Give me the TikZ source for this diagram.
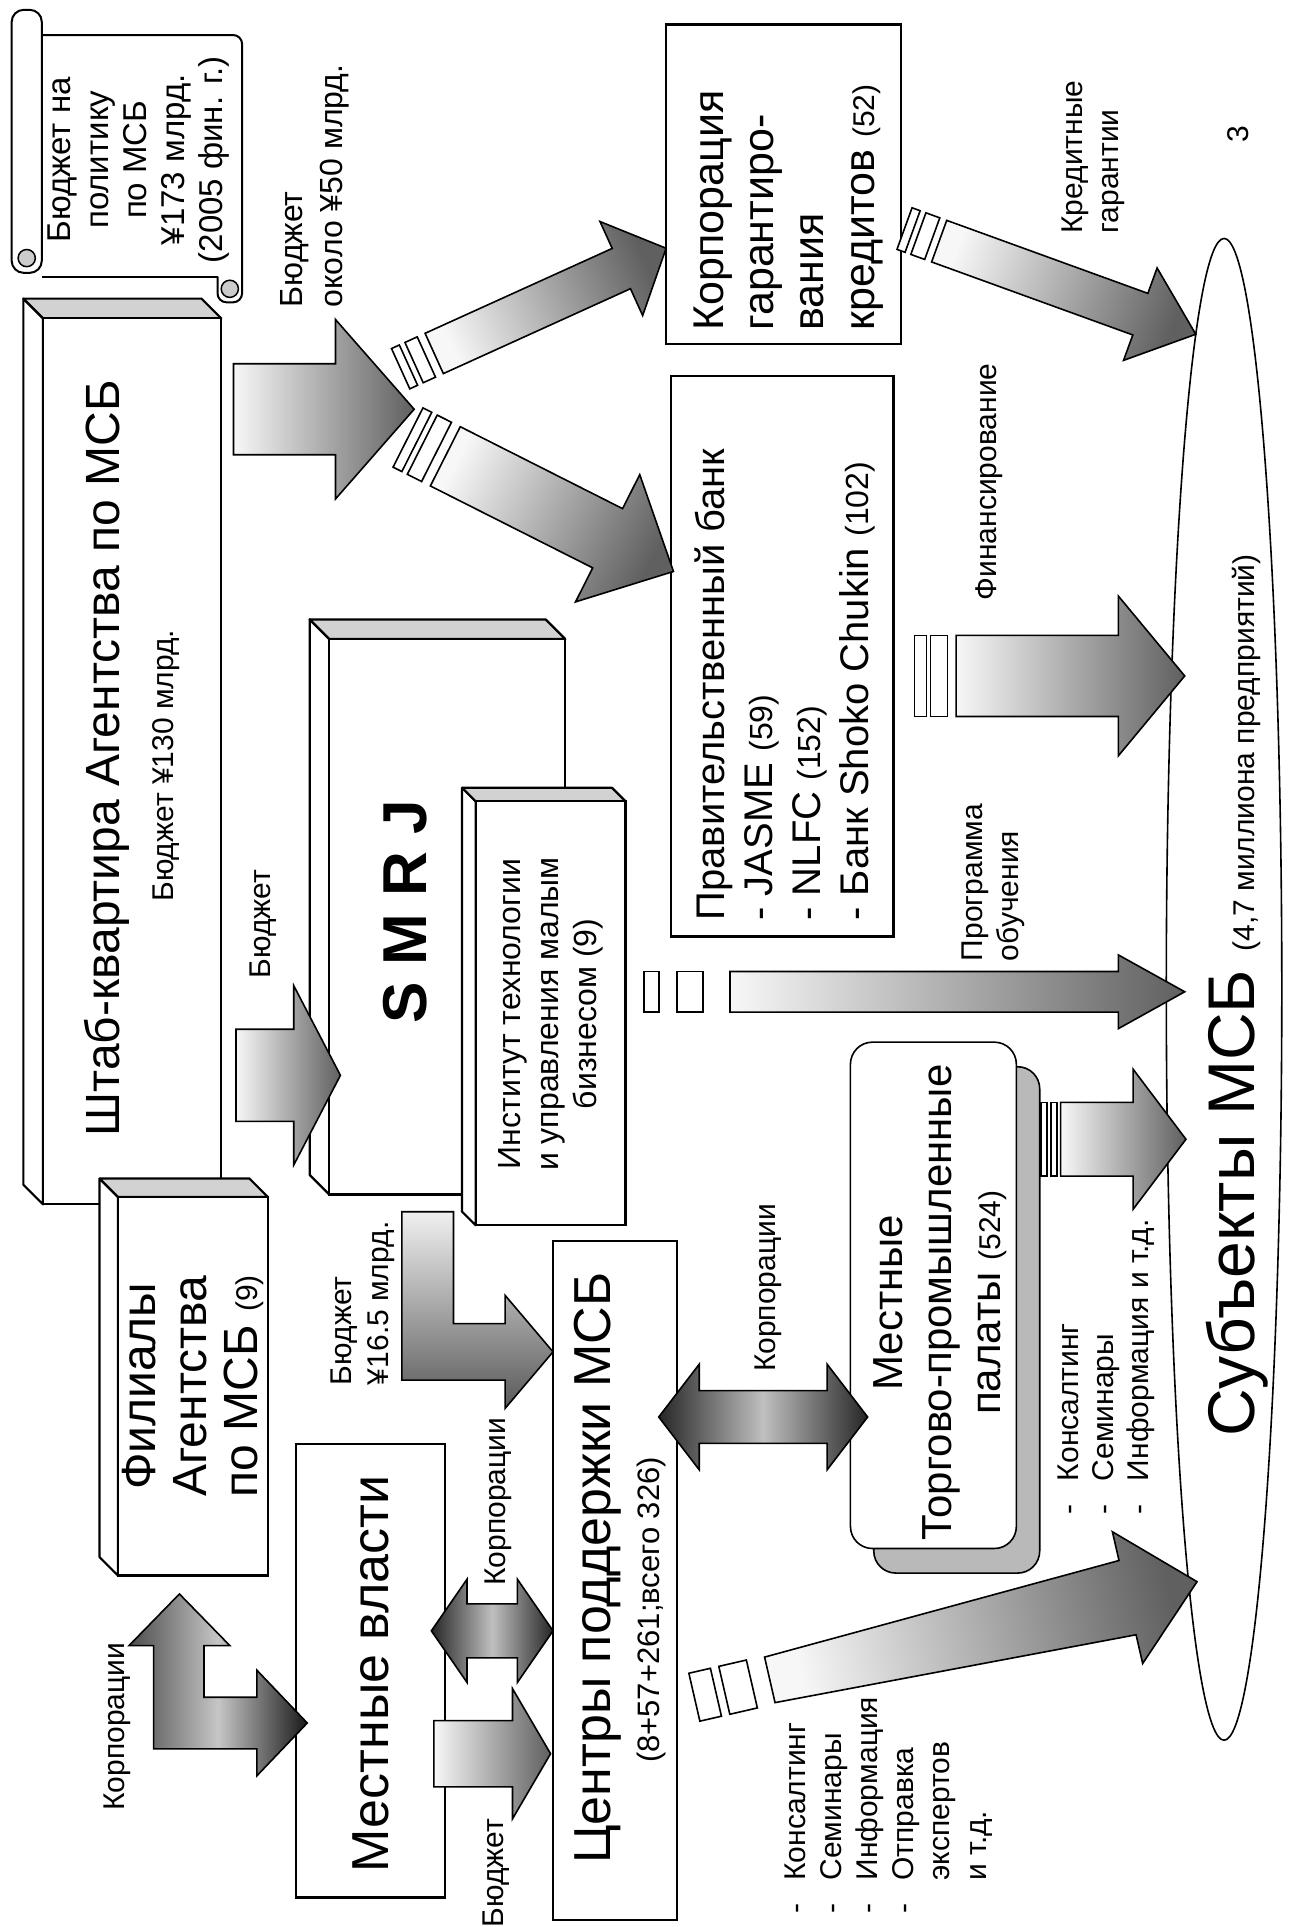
\documentclass[tikz,border=0pt]{standalone}
\usepackage{fontspec}
\setmainfont{Liberation Sans}
\usetikzlibrary{calc,shapes.geometric}

\newcommand\dunit{1.2286pt}
\newcommand\fz[2]{\fontsize{#1}{#2}\selectfont}
\newcommand\lstdash{\makebox[1.1em][l]{-}}
\newcommand\lstgap{\makebox[1.1em]{}}

\tikzset{
  box/.style={draw, line width=2.2pt, fill=white, inner sep=0pt, outer sep=0pt},
  bevtop/.style={draw, line width=2.2pt, fill=gray!35, line join=round},
  bevside/.style={draw, line width=2.2pt, fill=white, line join=round},
  lbl/.style={inner sep=0pt, outer sep=0pt, rotate=90},
  flowline/.style={draw, line width=1.6pt},
  flow/.style={flowline, left color=gray!6, right color=gray!75!black},
  twoway/.style={flowline, left color=black!85, right color=black!85, middle color=gray!50},
  barline/.style={draw, line width=1.6pt, fill=white},
  scroll/.style={draw, line width=2pt, fill=white},
}

% front face plus bevelled top and left faces
\newcommand\slab[6]{%
  \path[bevside] (#2,#3) -- (#2-#6,#3-#6) -- (#2-#6,#5-#6) -- (#2,#5) -- cycle;
  \path[bevtop] (#2,#3) -- (#2-#6,#3-#6) -- (#4-#6,#3-#6) -- (#4,#3) -- cycle;
  \node[box, anchor=north west, minimum width={(#4-#2)*\dunit}, minimum height={(#5-#3)*\dunit}] (#1) at (#2,#3) {};}
\newcommand\flatbox[5]{%
  \node[box, anchor=north west, minimum width={(#4-#2)*\dunit}, minimum height={(#5-#3)*\dunit}] (#1) at (#2,#3) {};}

% block arrow: name, tail, tip, shaft half width at tail, at head, head half width, head length, style
\newcommand\blockarrow[8]{%
  \coordinate (#1-h) at ($(#3)!#7*\dunit!(#2)$);
  \path[#8] ($(#2)!#4*\dunit!90:(#3)$)
    -- ($(#1-h)!#5*\dunit!90:(#3)$)
    -- ($(#1-h)!#6*\dunit!90:(#3)$)
    -- (#3)
    -- ($(#1-h)!#6*\dunit!-90:(#3)$)
    -- ($(#1-h)!#5*\dunit!-90:(#3)$)
    -- ($(#2)!#4*\dunit!-90:(#3)$)
    -- cycle;}

% white stripe in front of an arrow tail: name, axis start, axis target, from, to, half width
\newcommand\tailbar[6]{%
  \coordinate (#1-a) at ($(#2)!#4*\dunit!(#3)$);
  \coordinate (#1-b) at ($(#2)!#5*\dunit!(#3)$);
  \path[barline] ($(#1-a)!#6*\dunit!90:(#3)$) -- ($(#1-b)!#6*\dunit!90:(#3)$)
    -- ($(#1-b)!#6*\dunit!-90:(#3)$) -- ($(#1-a)!#6*\dunit!-90:(#3)$) -- cycle;}

% two-headed block arrow: name, end a, end b, shaft half width, head half width, head length, style
\newcommand\dblarrow[7]{%
  \coordinate (#1-a) at ($(#2)!#6*\dunit!(#3)$);
  \coordinate (#1-b) at ($(#3)!#6*\dunit!(#2)$);
  \path[#7] (#2)
    -- ($(#1-a)!#5*\dunit!90:(#3)$) -- ($(#1-a)!#4*\dunit!90:(#3)$)
    -- ($(#1-b)!#4*\dunit!-90:(#2)$) -- ($(#1-b)!#5*\dunit!-90:(#2)$)
    -- (#3)
    -- ($(#1-b)!#5*\dunit!90:(#2)$) -- ($(#1-b)!#4*\dunit!90:(#2)$)
    -- ($(#1-a)!#4*\dunit!-90:(#3)$) -- ($(#1-a)!#5*\dunit!-90:(#3)$)
    -- cycle;}

\begin{document}
\begin{tikzpicture}[x=1.2286pt, y=-1.2286pt]
\useasboundingbox (0,0) rectangle (1050,1568);
\fill[white] (0,0) rectangle (1050,1568);

% SME population
\node[draw, ellipse, line width=1.6pt, inner sep=0pt, minimum width={94*\dunit}, minimum height={1222*\dunit}] (sme) at (996,805) {};
\node[lbl, font=\fz{66}{72}, anchor=base west] (smeT) at (1021,1169) {Субъекты МСБ {\fz{30}{36}(4,7 миллиона предприятий)}};

% budget scroll
\path[fill=white] (34,28.5) rectangle (197,225);
\draw[line width=2pt, rounded corners=9pt] (34,28.5) -- (197,28.5) -- (197,246) -- (177,246) -- (177,225);
\draw[line width=2pt] (34,225) -- (177,225);
\draw[line width=1.5pt, fill=gray!40] (187,235) circle[radius=7];
\draw[scroll, rounded corners=12pt] (9.5,222) -- (9.5,8) -- (34,8) -- (34,222) -- cycle;
\draw[line width=1.5pt, fill=gray!40] (21.75,210) circle[radius=7];
\node[lbl, font=\fz{33}{38}, align=center] (scrollT) at (113,130) {Бюджет на\\политику\\по МСБ\\¥173 млрд.\\(2005 фин. г.)};

% agency headquarters and branches
\slab{hq}{35}{259}{180}{980}{16}
\node[lbl, font=\fz{48}{56}, anchor=base] (hqT) at (97,617) {Штаб-квартира Агентства по МСБ};
\node[lbl, font=\fz{30}{36}, anchor=base] (hqB) at (141,623) {Бюджет ¥130 млрд.};

\slab{branch}{96}{974}{218}{1282}{15}
\node[lbl, font=\fz{48}{51}, align=center] (branchT) at (157,1128) {Филиалы\\Агентства\\по МСБ {\fz{30}{36}(9)}};

% SMRJ and its institute
\slab{smrj}{268}{520}{460}{972}{16}
\node[lbl, font=\fz{62}{70}\bfseries, anchor=base] (smrjT) at (347,742) {S M R J};

\slab{inst}{387}{652}{509}{997}{11}
\node[lbl, font=\fz{32}{38}, align=center] (instT) at (448,825) {Институт технологии\\и управления малым\\бизнесом (9)};

% financial institutions
\flatbox{cgc}{542}{20}{733}{280}
\node[lbl, font=\fz{43}{50}, align=left, anchor=north west] (cgcT) at (565,269) {Корпорация\\гарантиро-\\вания\\кредитов {\fz{30}{36}(52)}};

\flatbox{gfb}{546}{306}{727}{762}
\node[lbl, font=\fz{40}{48}, align=left, anchor=north west] (gfbT) at (565,749) {Правительственный банк\\- JASME {\fz{32}{36}(59)}\\- NLFC {\fz{32}{36}(152)}\\- Банк Shoko Chukin {\fz{32}{36}(102)}};

% chambers of commerce
\fill[gray!55, draw=black, line width=1.6pt, rounded corners=22pt] (711,868) rectangle (846,1280);
\node[box, line width=1.6pt, rounded corners=22pt, anchor=north west, minimum width={135*\dunit}, minimum height={412*\dunit}] (cci) at (692,848) {};
\node[lbl, font=\fz{42}{49}, align=center] (cciT) at (765,1060) {Местные\\Торгово-промышленные\\палаты {\fz{30}{36}(524)}};

% support centres and local government
\flatbox{ssc}{450}{1010}{551}{1562}
\node[lbl, font=\fz{52}{60}, anchor=base] (sscT) at (497,1276) {Центры поддержки МСБ};
\node[lbl, font=\fz{31}{36}, anchor=base] (sscN) at (537,1310) {(8+57+261;всего 326)};

\flatbox{lgov}{241}{1175}{362}{1544}
\node[lbl, font=\fz{52}{60}, anchor=base] (lgovT) at (316,1362) {Местные власти};

% headquarters budget split
\coordinate (hqOut) at (190,333);
\coordinate (split) at (337,333);
\blockarrow{aHQ}{hqOut}{split}{37}{37}{73}{64}{flow}

\coordinate (upA) at (326,300);
\coordinate (cgcIn) at (542,202);
\tailbar{ub1}{upA}{cgcIn}{0}{7}{18}
\tailbar{ub2}{upA}{cgcIn}{12}{23}{18}
\coordinate (upS) at ($(upA)!30*\dunit!(cgcIn)$);
\blockarrow{aUp}{upS}{cgcIn}{18}{18}{42}{40}{flow, shading angle=114.4}

\coordinate (dnA) at (332,356);
\coordinate (gfbIn) at (548,465);
\tailbar{db1}{dnA}{gfbIn}{0}{8}{27}
\tailbar{db2}{dnA}{gfbIn}{13}{26}{27}
\coordinate (dnS) at ($(dnA)!34*\dunit!(gfbIn)$);
\blockarrow{aDn}{dnS}{gfbIn}{27}{27}{58}{60}{flow, shading angle=63.2}

% services towards the SMEs
\coordinate (cgA) at (736,186);
\coordinate (smeG) at (973,272);
\tailbar{gb1}{cgA}{smeG}{0}{7}{18}
\tailbar{gb2}{cgA}{smeG}{12}{24}{18}
\coordinate (cgS) at ($(cgA)!30*\dunit!(smeG)$);
\blockarrow{aG}{cgS}{smeG}{18}{18}{40}{48}{flow, shading angle=70}

\coordinate (finA) at (744,550);
\coordinate (smeF) at (964,550);
\tailbar{fb1}{finA}{smeF}{0}{10}{33}
\tailbar{fb2}{finA}{smeF}{13}{27}{33}
\coordinate (finS) at ($(finA)!34*\dunit!(smeF)$);
\blockarrow{aF}{finS}{smeF}{33}{33}{65}{54}{flow}

\coordinate (trA) at (524,807);
\coordinate (smeT) at (964,807);
\tailbar{tb1}{trA}{smeT}{0}{12}{16.5}
\tailbar{tb2}{trA}{smeT}{27}{48}{16.5}
\coordinate (trS) at ($(trA)!70*\dunit!(smeT)$);
\blockarrow{aT}{trS}{smeT}{16.5}{16.5}{30}{54}{flow}

\coordinate (ccA) at (846,927);
\coordinate (smeC) at (965,927);
\tailbar{cb1}{ccA}{smeC}{1}{6}{30}
\tailbar{cb2}{ccA}{smeC}{9}{14}{30}
\coordinate (ccS) at ($(ccA)!17*\dunit!(smeC)$);
\blockarrow{aC}{ccS}{smeC}{30}{30}{57}{43}{flow}

\coordinate (scA) at (565,1381);
\coordinate (smeS) at (974,1287);
\tailbar{sb1}{scA}{smeS}{0}{18}{20}
\tailbar{sb2}{scA}{smeS}{25}{48}{20}
\coordinate (scS) at ($(scA)!63*\dunit!(smeS)$);
\blockarrow{aS}{scS}{smeS}{19}{31}{55}{58}{flow, shading angle=103}

% cooperation between centres and chambers
\coordinate (sscR) at (536,1153);
\coordinate (cciL) at (706,1153);
\dblarrow{dC}{sscR}{cciL}{21.5}{43}{33}{twoway}

% local government and centres
\coordinate (lgovR) at (351,1327);
\coordinate (sscL) at (450,1327);
\dblarrow{dL}{lgovR}{sscL}{22}{42}{29}{twoway}

\coordinate (lgovB) at (353,1427);
\coordinate (sscB) at (448,1427);
\blockarrow{aL}{lgovB}{sscB}{27}{27}{53}{31}{flow}

% headquarters budget to SMRJ
\coordinate (hqS) at (192,875);
\coordinate (smrjIn) at (277,875);
\blockarrow{aH}{hqS}{smrjIn}{37.5}{37.5}{73}{38}{flow}

% SMRJ budget to centres (bent)
\coordinate (smrjFoot) at (348,986);
\coordinate (sscIn) at (450,1100);
\path[flowline, top color=gray!12, bottom color=gray!70!black] ($(smrjFoot)+(-21,0)$) -- ($(smrjFoot)+(21,0)$) -- (369,1077) -- (411,1077) -- (411,1054) -- (sscIn) -- (411,1146) -- (411,1123) -- (327,1123) -- cycle;

% branches and local government (bent, two heads)
\coordinate (branchFoot) at (146,1297);
\coordinate (lgovIn) at (250,1402);
\path[flowline, left color=gray!60!black, right color=black!90, middle color=gray!45] (branchFoot) -- (187,1339) -- (166,1339) -- (166,1381) -- (209,1381) -- (209,1359) -- (lgovIn) -- (209,1445) -- (209,1423) -- (125,1423) -- (125,1339) -- (105,1339) -- cycle;

% labels
\node[lbl, font=\fz{32}{40}, align=left, anchor=north west] (lbBud50) at (228,250) {Бюджет\\около ¥50 млрд.};
\node[lbl, font=\fz{30}{36}, anchor=base] (lbBudS) at (220,752) {Бюджет};
\node[lbl, font=\fz{30}{36}, align=left, anchor=north west] (lbGuar) at (864,190) {Кредитные\\гарантии};
\node[lbl, font=\fz{30}{36}, anchor=base] (pageNo) at (1016,109) {3};
\node[lbl, font=\fz{30}{36}, anchor=base] (lbFin) at (811,392) {Финансирование};
\node[lbl, font=\fz{30}{36}, align=left, anchor=north west] (lbTrain) at (783,782) {Программа\\обучения};
\node[lbl, font=\fz{30}{36}, anchor=base] (lbCorpC) at (631,1048) {Корпорации};
\node[lbl, font=\fz{30}{37}, align=left, anchor=north west] (lbBud16) at (269,1127) {Бюджет\\¥16.5 млрд.};
\node[lbl, font=\fz{30}{36}, anchor=base] (lbCorpL) at (411,1222) {Корпорации};
\node[lbl, font=\fz{30}{36}, anchor=base] (lbBudL) at (410,1524) {Бюджет};
\node[lbl, font=\fz{30}{36}, anchor=base] (lbCorpB) at (101,1405) {Корпорации};
\node[lbl, font=\fz{30}{36}, align=left, anchor=north west] (lbSscList) at (639,1557) {\lstdash Консалтинг\\\lstdash Семинары\\\lstdash Информация\\\lstdash Отправка\\\lstgap экспертов\\\lstgap и т.д.};
\node[lbl, font=\fz{30}{35}, align=left, anchor=north west] (lbCciList) at (861,1232) {\lstdash Консалтинг\\\lstdash Семинары\\\lstdash Информация и т.д.};
\end{tikzpicture}
\end{document}
